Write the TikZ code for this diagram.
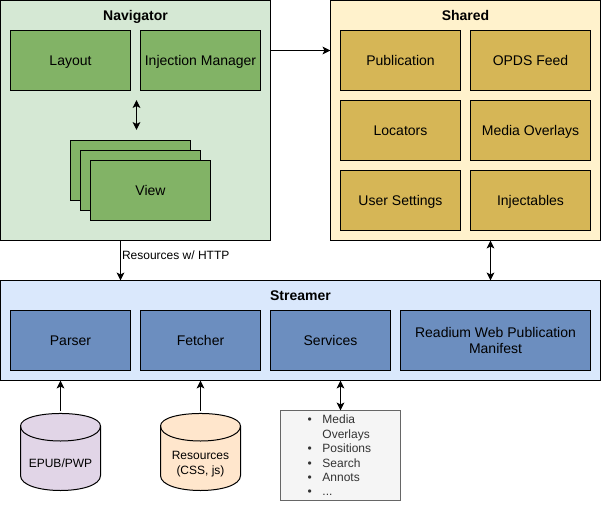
\documentclass[tikz,border=0pt]{standalone}
\usepackage{fontspec}
\setmainfont{Liberation Sans}
\usetikzlibrary{arrows.meta}
\definecolor{navfill}{HTML}{D5E8D4}
\definecolor{navbox}{HTML}{82B366}
\definecolor{shfill}{HTML}{FFF2CC}
\definecolor{shbox}{HTML}{D6B656}
\definecolor{stfill}{HTML}{DAE8FC}
\definecolor{stbox}{HTML}{6C8EBF}
\definecolor{purp}{HTML}{E1D5E7}
\definecolor{oran}{HTML}{FFE6CC}
\definecolor{listfill}{HTML}{F5F5F5}
\definecolor{listline}{HTML}{666666}
\definecolor{listtext}{HTML}{333333}
\tikzset{
  x=0.75pt,y=-0.75pt,
  every node/.style={inner sep=0pt,outer sep=0pt},
  base/.style={draw=black,line width=0.75pt,align=center,text height=8.5pt,text depth=1.5pt,font=\fontsize{10.5}{12}\selectfont},
  navb/.style={base,fill=navbox,minimum width=90pt,minimum height=45pt},
  shb/.style={base,fill=shbox,minimum width=90pt,minimum height=45pt},
  stb/.style={base,fill=stbox,minimum height=45pt},
  group/.style={draw=black,line width=0.75pt},
  grouptitle/.style={text height=8.5pt,text depth=1.5pt,font=\fontsize{10.5}{12}\selectfont\bfseries},
  conn/.style={line width=0.75pt,-{Stealth[length=6pt,width=5.8pt,inset=1.5pt]}},
  dconn/.style={line width=0.75pt,{Stealth[length=6pt,width=5.8pt,inset=1.5pt]}-{Stealth[length=6pt,width=5.8pt,inset=1.5pt]}},
  small/.style={font=\fontsize{9}{10.8}\selectfont,align=center},
  db/.style={draw=black,line width=0.75pt}
}
\newcommand{\dbshape}[2]{% centre x, colour
  \path[db,fill=#2] (#1-40,426) .. controls (#1-40,409.3) and (#1+40,409.3) .. (#1+40,426) -- (#1+40,475.5) .. controls (#1+40,495.5) and (#1-40,495.5) .. (#1-40,475.5) -- cycle;
  \draw[db] (#1-40,426) .. controls (#1-40,446) and (#1+40,446) .. (#1+40,426);
}
\begin{document}
\begin{tikzpicture}
\useasboundingbox (0,0) rectangle (601,511);
% Navigator
\node[group,fill=navfill,minimum width=202.5pt,minimum height=180pt] (nav) at (135.5,120.5) {};
\node[grouptitle] (navt) at (135.5,15.5) {Navigator};
\node[navb] (layout) at (70.5,60.5) {Layout};
\node[navb] (inj) at (200.5,60.5) {Injection Manager};
\node[navb] (view1) at (130.5,170.5) {};
\node[navb] (view2) at (140.5,180.5) {};
\node[navb] (view3) at (150.5,190.5) {View};
\coordinate (da) at (136.5,100);
\coordinate (db) at (136.5,130);
\draw[dconn] (da) -- (db);
% Shared
\node[group,fill=shfill,minimum width=202.5pt,minimum height=180pt] (shared) at (465.5,120.5) {};
\node[grouptitle] (sht) at (465.5,15.5) {Shared};
\node[shb] (pub) at (400.5,60.5) {Publication};
\node[shb] (opds) at (530.5,60.5) {OPDS Feed};
\node[shb] (loc) at (400.5,130.5) {Locators};
\node[shb] (mo) at (530.5,130.5) {Media Overlays};
\node[shb] (us) at (400.5,200.5) {User Settings};
\node[shb] (injb) at (530.5,200.5) {Injectables};
% Streamer
\node[group,fill=stfill,minimum width=450pt,minimum height=75pt] (streamer) at (300.5,330.5) {};
\node[grouptitle] (stt) at (300.5,295.5) {Streamer};
\node[stb,minimum width=90pt] (parser) at (70.5,340.5) {Parser};
\node[stb,minimum width=90pt] (fetcher) at (200.5,340.5) {Fetcher};
\node[stb,minimum width=90pt] (services) at (330.5,340.5) {Services};
\node[stb,minimum width=142.5pt,text height=,text depth=] (readium) at (495.5,340.5) {Readium Web Publication\\Manifest};
% Cylinders
\dbshape{60.5}{purp}
\dbshape{200.5}{oran}
\node[small,minimum width=60pt,minimum height=60pt] (epub) at (60.5,450.5) {};
\node[small] (epubt) at (60.5,463.5) {EPUB/PWP};
\node[small,minimum width=60pt,minimum height=60pt] (res) at (200.5,450.5) {};
\node[small] (rest) at (200.5,464) {Resources\\(CSS, js)};
% List
\node[draw=listline,line width=0.75pt,fill=listfill,minimum width=90pt,minimum height=67.5pt] (list) at (340.5,455.5) {};
\node[anchor=north west,font=\fontsize{9}{10.8}\selectfont,text=listtext] (listt) at (307.6,413.8) {%
  \setlength{\tabcolsep}{0pt}%
  \begin{tabular}{@{}l@{\hspace{8pt}}l@{}}
  \textbullet & Media\\
   & Overlays\\
  \textbullet & Positions\\
  \textbullet & Search\\
  \textbullet & Annots\\
  \textbullet & ...
  \end{tabular}};
% Connectors
\coordinate (nsy) at (300,50.5);
\coordinate (hx) at (120.5,260);
\coordinate (sx) at (490.5,260);
\draw[conn] (nav.east |- nsy) -- (shared.west |- nsy);
\draw[conn] (nav.south -| hx) -- (streamer.north -| hx);
\node[anchor=west,font=\fontsize{9}{10.8}\selectfont] (hl) at (122,255) {Resources w/ HTTP};
\draw[dconn] (shared.south -| sx) -- (streamer.north -| sx);
\draw[conn] (epub.north |- 0,410.5) -- (streamer.south -| epub);
\draw[conn] (res.north |- 0,410.5) -- (streamer.south -| res);
\draw[dconn] (streamer.south -| list) -- (list.north);
\end{tikzpicture}
\end{document}
